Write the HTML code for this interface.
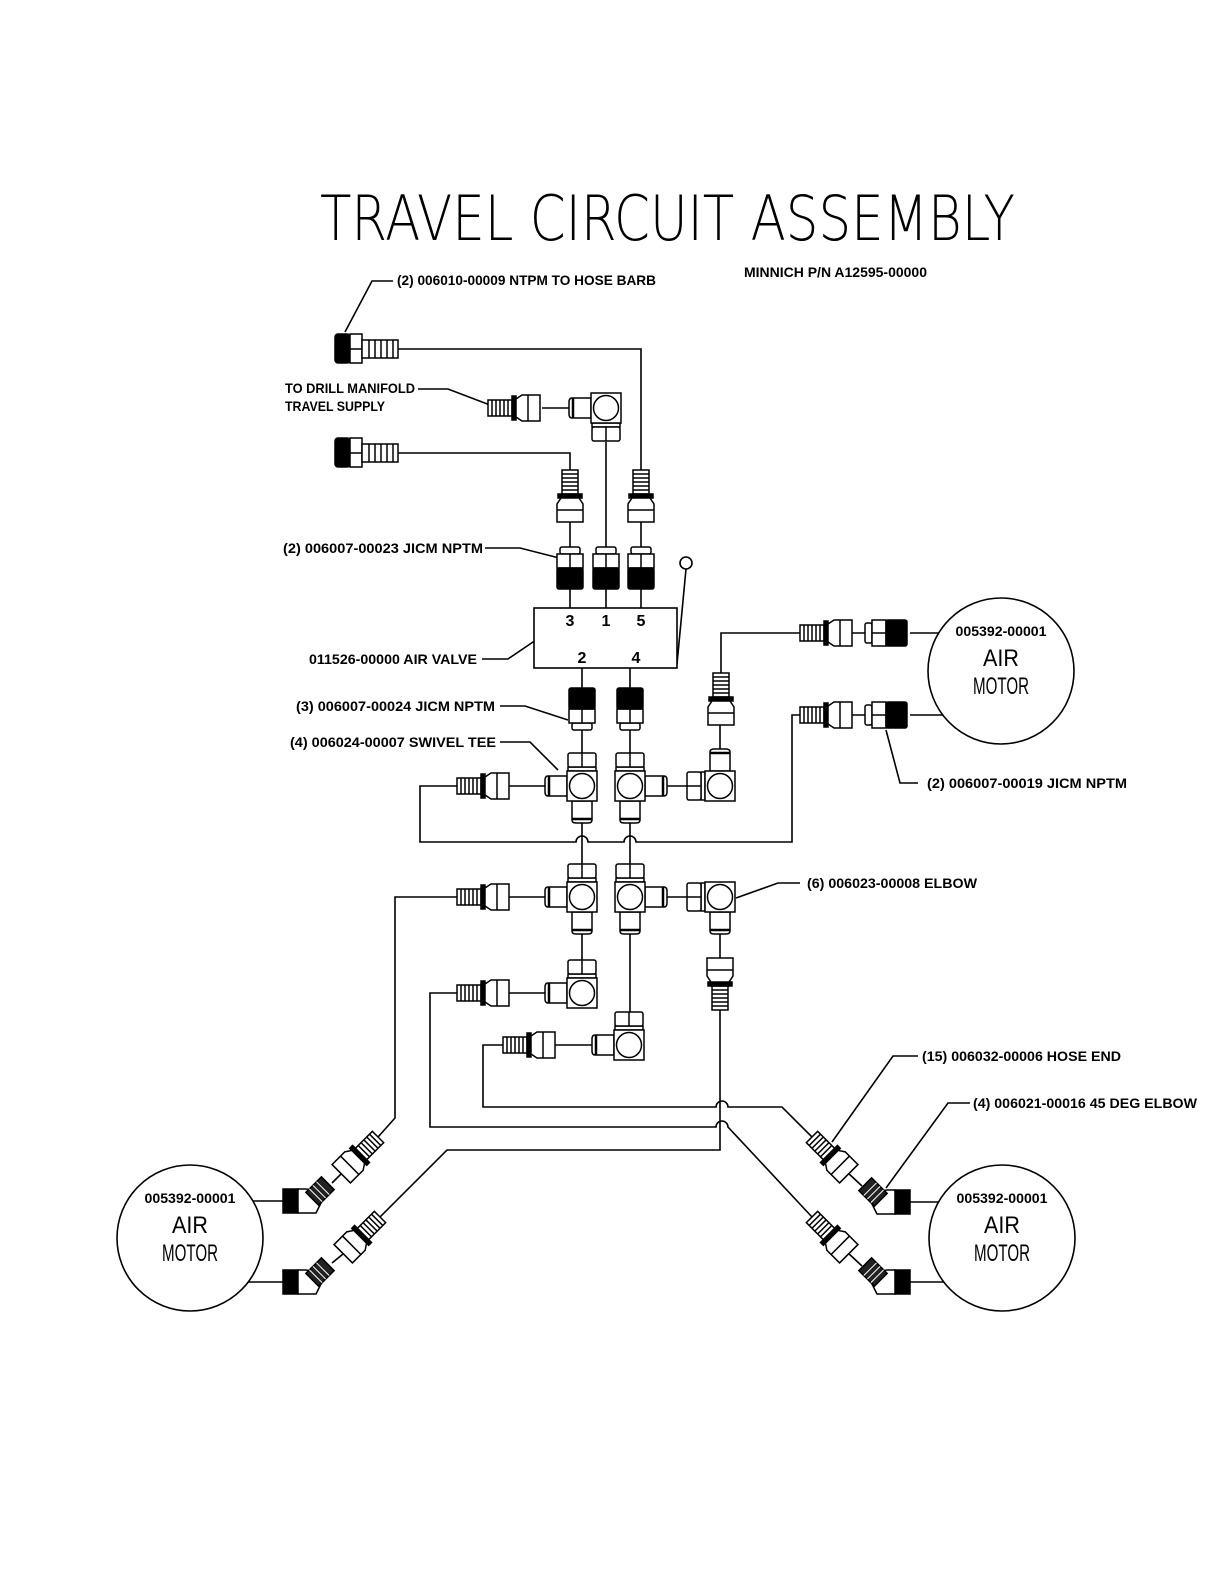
<!DOCTYPE html>
<html><head><meta charset="utf-8"><style>
html,body{margin:0;padding:0;background:#fff;}
svg{display:block;}
text{font-family:"Liberation Sans",sans-serif;fill:#000;}
.l{font-size:14px;font-weight:bold;}
.t{font-family:"DejaVu Sans","Liberation Sans",sans-serif;font-weight:200;}
</style></head><body>
<svg width="1224" height="1584" viewBox="0 0 1224 1584" xmlns="http://www.w3.org/2000/svg">
<defs>
 <g id="he" stroke="#000" stroke-width="1.5" fill="#fff">
  <rect x="0" y="-8" width="24" height="16"/>
  <path d="M4 -8V8M8 -8V8M12 -8V8M16 -8V8M20 -8V8" fill="none"/>
  <rect x="24" y="-12" width="4" height="24" fill="#000"/>
  <polygon points="28,-9 34,-13 52,-13 52,13 34,13 28,9"/>
  <line x1="40" y1="-13" x2="40" y2="13"/>
 </g>
 <g id="jic" stroke="#000" stroke-width="1.5" fill="#fff">
  <rect x="0" y="-10" width="7" height="20" rx="2"/>
  <rect x="7" y="-13" width="14" height="26"/>
  <line x1="7" y1="0" x2="21" y2="0"/>
  <rect x="21" y="-13" width="21" height="26" rx="2" fill="#000"/>
 </g>
 <g id="body" stroke="#000" stroke-width="1.5" fill="#fff">
  <rect x="-15" y="-15" width="30" height="30"/>
  <circle cx="0" cy="0" r="12.5"/>
 </g>
 <g id="arm" stroke="#000" stroke-width="1.5" fill="#fff">
  <path d="M15 -10 H34 Q37 -10 37 -6 V6 Q37 10 34 10 H15 Z"/>
  <line x1="33" y1="-10" x2="33" y2="10" stroke-width="2.5"/>
 </g>
 <g id="nut" stroke="#000" stroke-width="1.5" fill="#fff">
  <rect x="15" y="-14" width="4" height="28"/>
  <rect x="19" y="-14" width="14" height="28" rx="2"/>
  <line x1="19" y1="0" x2="33" y2="0"/>
 </g>
 <g id="m45" stroke="#000" stroke-width="1.5" fill="#fff">
  <rect x="-15" y="-12" width="15" height="24" fill="#000"/>
  <polygon points="0,-12 8,-12 28,-8 18,12 0,12"/>
  <g transform="translate(22,-10) rotate(-45)">
   <rect x="-11" y="-9" width="22" height="18" fill="#222"/>
   <path d="M-6 -9V9M-1 -9V9M4 -9V9" stroke="#fff" stroke-width="1"/>
  </g>
 </g>
</defs>

<!-- Title -->
<text class="t" x="320" y="240" font-size="62" textLength="695" lengthAdjust="spacingAndGlyphs">TRAVEL CIRCUIT ASSEMBLY</text>
<text class="l" x="397" y="285" textLength="259" lengthAdjust="spacingAndGlyphs">(2) 006010-00009 NTPM TO HOSE BARB</text>
<text class="l" x="744" y="277" textLength="183" lengthAdjust="spacingAndGlyphs">MINNICH P/N A12595-00000</text>
<text class="l" x="285" y="393" textLength="130" lengthAdjust="spacingAndGlyphs">TO DRILL MANIFOLD</text>
<text class="l" x="285" y="411" textLength="100" lengthAdjust="spacingAndGlyphs">TRAVEL SUPPLY</text>
<text class="l" x="283" y="553" textLength="200" lengthAdjust="spacingAndGlyphs">(2) 006007-00023 JICM NPTM</text>
<text class="l" x="309" y="664" textLength="168" lengthAdjust="spacingAndGlyphs">011526-00000 AIR VALVE</text>
<text class="l" x="296" y="711" textLength="199" lengthAdjust="spacingAndGlyphs">(3) 006007-00024 JICM NPTM</text>
<text class="l" x="290" y="747" textLength="206" lengthAdjust="spacingAndGlyphs">(4) 006024-00007 SWIVEL TEE</text>
<text class="l" x="927" y="788" textLength="200" lengthAdjust="spacingAndGlyphs">(2) 006007-00019 JICM NPTM</text>
<text class="l" x="807" y="888" textLength="170" lengthAdjust="spacingAndGlyphs">(6) 006023-00008 ELBOW</text>
<text class="l" x="922" y="1061" textLength="199" lengthAdjust="spacingAndGlyphs">(15) 006032-00006 HOSE END</text>
<text class="l" x="973" y="1108" textLength="224" lengthAdjust="spacingAndGlyphs">(4) 006021-00016 45 DEG ELBOW</text>

<g fill="none" stroke="#000" stroke-width="1.6">
 <path d="M393 281 H372 L345 332"/>
 <path d="M418 389 H448 L490 405"/>
 <path d="M485 548 H520 L567 560"/>
 <path d="M482 659 H508 L536 640"/>
 <path d="M500 706 H525 L568 720"/>
 <path d="M500 742 H530 L558 770"/>
 <path d="M918 783 H900 L886 730"/>
 <path d="M800 883 H778 L736 898"/>
 <path d="M918 1056 H893 L832 1142"/>
 <path d="M970 1103 H948 L886 1188"/>
 <path d="M677 664 L686 569"/>
 <circle cx="686" cy="563" r="6" fill="#fff"/>
 <path d="M398 349 H641 V470"/>
 <path d="M398 453 H570 V470"/>
 <path d="M542 408 H569"/>
 <path d="M606 442 V547"/>
 <path d="M570 522 V547 M641 522 V547"/>
 <path d="M570 589 V608 M606 589 V608 M641 589 V608"/>
 <path d="M582 668 V688 M630 668 V688"/>
 <path d="M582 730 V753 M630 730 V753"/>
 <path d="M507 786 H545"/>
 <path d="M507 897 H545"/>
 <path d="M507 993 H545"/>
 <path d="M555 1045 H592"/>
 <path d="M667 786 H687"/>
 <path d="M667 897 H687"/>
 <path d="M582 823 V864 M630 823 V864"/>
 <path d="M582 934 V960"/>
 <path d="M630 934 V1012"/>
 <path d="M720 934 V958"/>
 <path d="M720 749 V725"/>
 <path d="M721 673 V633 H800"/>
 <path d="M843 633 H865 M910 633 H939"/>
 <path d="M843 715 H865 M910 715 H943"/>
 <path d="M457 786 H420 V842 H576 A6 6 0 0 1 588 842 H624 A6 6 0 0 1 636 842 H792 V715 H800"/>
 <path d="M457 897 H395 V1118 L378 1137"/>
 <path d="M457 993 H430 V1127 H716 A6 6 0 0 1 728 1127 L812 1217"/>
 <path d="M503 1045 H483 V1107 H716 A6 6 0 0 1 728 1107 H782 L812 1137"/>
 <path d="M720 1010 V1150 H447 L380 1217"/>
 <path d="M341 1174 L332 1183"/>
 <path d="M343 1254 L332 1263"/>
 <path d="M847 1172 L862 1186"/>
 <path d="M847 1252 L862 1266"/>
 <path d="M253 1201 H283 M248 1282 H283"/>
 <path d="M910 1202 H939 M910 1282 H944"/>
 <circle cx="1001" cy="671" r="73"/>
 <circle cx="190" cy="1238" r="73"/>
 <circle cx="1002" cy="1238" r="73"/>
 <rect x="534" y="608" width="143" height="60" fill="#fff"/>
</g>

<g font-size="16" font-weight="bold" text-anchor="middle">
 <text x="570" y="626">3</text><text x="606" y="626">1</text><text x="641" y="626">5</text>
 <text x="582" y="663">2</text><text x="636" y="663">4</text>
</g>

<g text-anchor="middle">
 <text x="1001" y="636" font-size="14" font-weight="bold" textLength="91" lengthAdjust="spacingAndGlyphs">005392-00001</text>
 <text x="1001" y="666" font-size="24" textLength="36" lengthAdjust="spacingAndGlyphs">AIR</text>
 <text x="1001" y="694" font-size="24" textLength="56" lengthAdjust="spacingAndGlyphs">MOTOR</text>
 <text x="190" y="1203" font-size="14" font-weight="bold" textLength="91" lengthAdjust="spacingAndGlyphs">005392-00001</text>
 <text x="190" y="1233" font-size="24" textLength="36" lengthAdjust="spacingAndGlyphs">AIR</text>
 <text x="190" y="1261" font-size="24" textLength="56" lengthAdjust="spacingAndGlyphs">MOTOR</text>
 <text x="1002" y="1203" font-size="14" font-weight="bold" textLength="91" lengthAdjust="spacingAndGlyphs">005392-00001</text>
 <text x="1002" y="1233" font-size="24" textLength="36" lengthAdjust="spacingAndGlyphs">AIR</text>
 <text x="1002" y="1261" font-size="24" textLength="56" lengthAdjust="spacingAndGlyphs">MOTOR</text>
</g>

<g stroke="#000" stroke-width="1.5" fill="#fff">
 <rect x="335" y="334" width="15" height="29" rx="3" fill="#000"/>
 <rect x="350" y="334" width="12" height="29"/><line x1="350" y1="349" x2="362" y2="349"/>
 <rect x="362" y="340" width="36" height="18"/>
 <path d="M369 340V358M375 340V358M381 340V358M387 340V358M393 340V358" fill="none"/>
 <rect x="335" y="438" width="15" height="29" rx="3" fill="#000"/>
 <rect x="350" y="438" width="12" height="29"/><line x1="350" y1="453" x2="362" y2="453"/>
 <rect x="362" y="444" width="36" height="18"/>
 <path d="M369 444V462M375 444V462M381 444V462M387 444V462M393 444V462" fill="none"/>
</g>

<use href="#he" transform="translate(488,408)"/>
<use href="#he" transform="translate(570,470) rotate(90)"/>
<use href="#he" transform="translate(641,470) rotate(90)"/>
<use href="#he" transform="translate(721,673) rotate(90)"/>
<use href="#he" transform="translate(800,633)"/>
<use href="#he" transform="translate(800,715)"/>
<use href="#he" transform="translate(457,786)"/>
<use href="#he" transform="translate(457,897)"/>
<use href="#he" transform="translate(457,993)"/>
<use href="#he" transform="translate(503,1045)"/>
<use href="#he" transform="translate(720,1010) rotate(-90)"/>
<use href="#he" transform="translate(378,1137) rotate(135)"/>
<use href="#he" transform="translate(380,1217) rotate(135)"/>
<use href="#he" transform="translate(812,1137) rotate(45)"/>
<use href="#he" transform="translate(812,1217) rotate(45)"/>

<use href="#jic" transform="translate(570,547) rotate(90)"/>
<use href="#jic" transform="translate(606,547) rotate(90)"/>
<use href="#jic" transform="translate(641,547) rotate(90)"/>
<use href="#jic" transform="translate(582,730) rotate(-90)"/>
<use href="#jic" transform="translate(630,730) rotate(-90)"/>
<use href="#jic" transform="translate(865,633)"/>
<use href="#jic" transform="translate(865,715)"/>

<g transform="translate(606,408)"><use href="#arm" transform="rotate(180)"/><use href="#nut" transform="rotate(90)"/><use href="#body"/></g>
<g transform="translate(582,786)"><use href="#nut" transform="rotate(-90)"/><use href="#arm" transform="rotate(180)"/><use href="#arm" transform="rotate(90)"/><use href="#body"/></g>
<g transform="translate(630,786)"><use href="#nut" transform="rotate(-90)"/><use href="#arm"/><use href="#arm" transform="rotate(90)"/><use href="#body"/></g>
<g transform="translate(720,786)"><use href="#nut" transform="rotate(180)"/><use href="#arm" transform="rotate(-90)"/><use href="#body"/></g>
<g transform="translate(582,897)"><use href="#nut" transform="rotate(-90)"/><use href="#arm" transform="rotate(180)"/><use href="#arm" transform="rotate(90)"/><use href="#body"/></g>
<g transform="translate(630,897)"><use href="#nut" transform="rotate(-90)"/><use href="#arm"/><use href="#arm" transform="rotate(90)"/><use href="#body"/></g>
<g transform="translate(720,897)"><use href="#nut" transform="rotate(180)"/><use href="#arm" transform="rotate(90)"/><use href="#body"/></g>
<g transform="translate(582,993)"><use href="#nut" transform="rotate(-90)"/><use href="#arm" transform="rotate(180)"/><use href="#body"/></g>
<g transform="translate(629,1045)"><use href="#nut" transform="rotate(-90)"/><use href="#arm" transform="rotate(180)"/><use href="#body"/></g>

<use href="#m45" transform="translate(298,1201)"/>
<use href="#m45" transform="translate(298,1282)"/>
<use href="#m45" transform="translate(895,1202) scale(-1,1)"/>
<use href="#m45" transform="translate(895,1282) scale(-1,1)"/>
</svg>
</body></html>
